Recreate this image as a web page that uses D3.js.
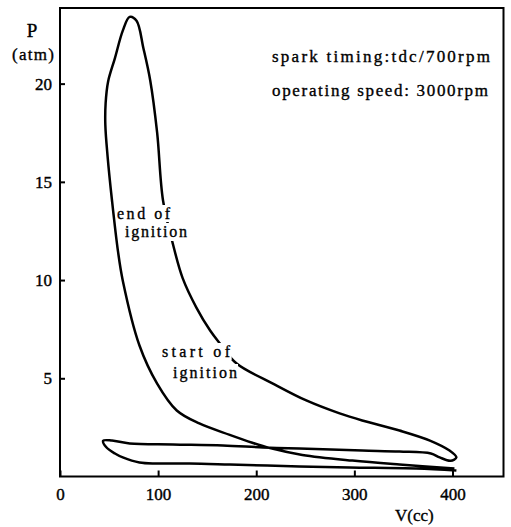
<!DOCTYPE html>
<html lang="en">
<head>
<meta charset="UTF-8">
<title>P-V diagram</title>
<style>
body { margin: 0; background: #fff; }
svg { display: block; }
.serif { font-family: "Liberation Serif", "DejaVu Serif", serif; fill: #000; stroke: #000; stroke-width: 0.35px; }
</style>
</head>
<body>
<svg width="511" height="527"></svg>
<script src="https://d3js.org/d3.v7.min.js"></script>
<script>
// ticks
const xTicks = [0, 100, 200, 300, 400];
const yTicks = [5, 10, 15, 20];

// cycle as [V (cc), P (atm)]
const compression = [[402,0.41],[346,0.61],[298,0.81],[247,1.1],[214,1.45],[196,1.72],[173,2.12],[142,2.7],[119,3.36],[99,4.73],[81,6.67],[64,9.97],[59,11.5],[53,14.05],[48.5,16.3],[46.2,17.9],[46.5,19.0],[49,20.1],[56,21.3],[64,22.7],[71,23.4]];
const expansion = [[78,23.2],[85,21.8],[92,20.15],[99,17.5],[105,14.05],[115,11.85],[125,10.1],[139,8.6],[153,7.43],[163,6.77],[180,5.75],[217,4.73],[251,3.87],[285,3.21],[308,2.85],[346,2.34],[377,1.83],[397,1.32],[404,0.97]];
const exhaust = [[398,0.8],[387,0.97],[378,1.17],[346,1.27],[308,1.32],[244,1.42],[207,1.48],[166,1.58],[115,1.63],[71,1.68],[53,1.83],[44,1.82]];
const intake = [[47,1.5],[56,1.17],[64,0.97],[81,0.71],[99,0.66],[132,0.66],[173,0.61],[244,0.51],[295,0.46],[363,0.41],[404,0.31]];

const notes = ['spark timing:tdc/700rpm', 'operating speed: 3000rpm'];

var svg = d3.select('svg');

var x = d3.scaleLinear().domain([0, 452]).range([60, 503.5]);
var y = d3.scaleLinear().domain([0, 23.85]).range([476.5, 8]);

// frame
svg.append('rect')
    .attr('x', x(0)).attr('y', y(23.85))
    .attr('width', x(452) - x(0)).attr('height', y(0) - y(23.85))
    .attr('fill', 'none').attr('stroke', '#000').attr('stroke-width', 2);

let xAxis = svg.append('g')
    .attr('transform', `translate(0, ${y(0)})`)
    .call(d3.axisBottom(x).tickValues(xTicks).tickSize(-6).tickPadding(11).tickFormat(d3.format('d')));

let yAxis = svg.append('g')
    .attr('transform', `translate(${x(0)}, 0)`)
    .call(d3.axisLeft(y).tickValues(yTicks).tickSize(-5).tickPadding(8));

[xAxis, yAxis].forEach(a => {
    a.select('.domain').remove();
    a.selectAll('line').attr('stroke', '#000').attr('stroke-width', 2);
    a.attr('font-family', '"Liberation Serif", "DejaVu Serif", serif').attr('font-size', 17);
    a.selectAll('text').attr('fill', '#000').attr('stroke', '#000').attr('stroke-width', 0.4);
});

// the cycle curve
var line = d3.line()
    .x(d => x(d[0]))
    .y(d => y(d[1]))
    .curve(d3.curveCatmullRom.alpha(0.5));

var cycle = compression.concat(expansion, exhaust, intake);

svg.append('path')
    .datum(cycle)
    .attr('d', line)
    .attr('fill', 'none')
    .attr('stroke', '#000')
    .attr('stroke-width', 2.5)
    .attr('stroke-linejoin', 'round');

// labels on the curve, with white behind them
function label(str, px, py, len) {
    let t = svg.append('text')
        .attr('class', 'serif')
        .attr('x', px).attr('y', py)
        .attr('font-size', 16)
        .attr('textLength', len)
        .attr('lengthAdjust', 'spacing')
        .text(str);
    let b = t.node().getBBox();
    svg.insert('rect', () => t.node())
        .attr('x', b.x - 1).attr('y', b.y)
        .attr('width', b.width + 2).attr('height', b.height)
        .attr('fill', '#fff');
    return t;
}

label('end of', 117, 219, 53);
label('ignition', 125, 237, 62);
label('start of', 162, 357, 68);
label('ignition', 173, 378, 64);

// notes top right
notes.forEach((n, i) => {
    svg.append('text')
        .attr('class', 'serif')
        .attr('x', 272).attr('y', 62 + i * 34)
        .attr('font-size', 17)
        .attr('textLength', i == 0 ? 218 : 216)
        .attr('lengthAdjust', 'spacing')
        .text(n);
});

// axis titles
svg.append('text').attr('class', 'serif')
    .attr('x', 32).attr('y', 37).attr('text-anchor', 'middle')
    .attr('font-size', 19).text('P');
svg.append('text').attr('class', 'serif')
    .attr('x', 12).attr('y', 60)
    .attr('font-size', 17)
    .attr('textLength', 42).attr('lengthAdjust', 'spacing')
    .text('(atm)');
svg.append('text').attr('class', 'serif')
    .attr('x', 395).attr('y', 521)
    .attr('font-size', 17).text('V(cc)');
</script>
</body>
</html>
